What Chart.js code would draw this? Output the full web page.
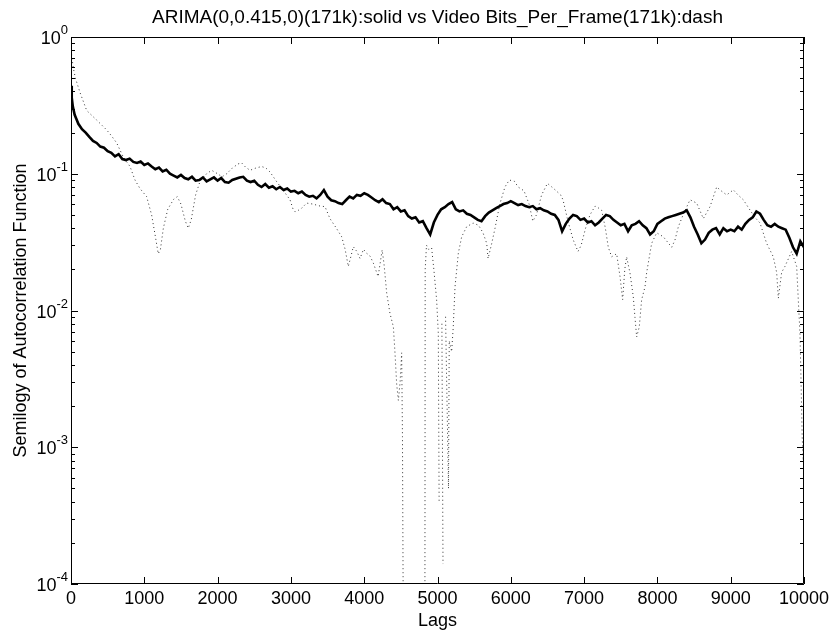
<!DOCTYPE html>
<html>
<head>
<meta charset="utf-8">
<script src="https://cdn.jsdelivr.net/npm/chart.js@4.4.1/dist/chart.umd.min.js"></script>
<style>
  body { margin: 0; background: #fff; }
  #cadre { width: 835px; height: 631px; position: relative; }
</style>
</head>
<body>
<div id="cadre"><canvas id="graphique-acf"></canvas></div>
<script>
// ACF du modele ARIMA (trait plein)
const lagsArima = [1, 10, 25, 50, 75, 100, 150, 200, 250, 300, 350, 400, 450, 500, 550, 600, 650, 700, 750, 800, 850, 900, 950,
  1000, 1050, 1100, 1150, 1200, 1250, 1300, 1350, 1400, 1450, 1500, 1550, 1600, 1650, 1700, 1750, 1800, 1850, 1900, 1950,
  2000, 2050, 2100, 2150, 2200, 2250, 2300, 2350, 2400, 2450, 2500, 2550, 2600, 2650, 2700, 2750, 2800, 2850, 2900, 2950,
  3000, 3050, 3100, 3150, 3200, 3250, 3300, 3350, 3400, 3450, 3500, 3550, 3600, 3650, 3700, 3750, 3800, 3850, 3900, 3950,
  4000, 4050, 4100, 4150, 4200, 4250, 4300, 4350, 4400, 4450, 4500, 4550, 4600, 4650, 4700, 4750, 4800, 4850, 4900, 4950,
  5000, 5050, 5100, 5150, 5200, 5250, 5300, 5350, 5400, 5450, 5500, 5550, 5600, 5650, 5700, 5750, 5800, 5850, 5900, 5950,
  6000, 6050, 6100, 6150, 6200, 6250, 6300, 6350, 6400, 6450, 6500, 6550, 6600, 6650, 6700, 6750, 6800, 6850, 6900, 6950,
  7000, 7050, 7100, 7150, 7200, 7250, 7300, 7350, 7400, 7450, 7500, 7550, 7600, 7650, 7700, 7750, 7800, 7850, 7900, 7950,
  8000, 8050, 8100, 8150, 8200, 8250, 8300, 8350, 8400, 8450, 8500, 8550, 8600, 8650, 8700, 8750, 8800, 8850, 8900, 8950,
  9000, 9050, 9100, 9150, 9200, 9250, 9300, 9350, 9400, 9450, 9500, 9550, 9600, 9650, 9700, 9750, 9800, 9850, 9900, 9950, 10000]
const acfArima = [0.44, 0.36, 0.31, 0.27, 0.25, 0.232, 0.212, 0.2, 0.186, 0.174, 0.168, 0.158, 0.155, 0.146, 0.142, 0.134, 0.139, 0.128, 0.126, 0.129, 0.122, 0.12, 0.123,
  0.116, 0.119, 0.113, 0.108, 0.111, 0.104, 0.107, 0.1, 0.097, 0.094, 0.098, 0.093, 0.091, 0.095, 0.089, 0.09, 0.094, 0.088, 0.091, 0.094,
  0.089, 0.093, 0.087, 0.086, 0.09, 0.092, 0.094, 0.095, 0.089, 0.087, 0.089, 0.083, 0.08, 0.084, 0.079, 0.081, 0.077, 0.08, 0.076, 0.078,
  0.074, 0.075, 0.072, 0.074, 0.07, 0.068, 0.069, 0.066, 0.07, 0.076, 0.068, 0.064, 0.063, 0.061, 0.06, 0.064, 0.068, 0.066, 0.07, 0.069,
  0.072, 0.07, 0.067, 0.064, 0.062, 0.065, 0.061, 0.06, 0.055, 0.057, 0.053, 0.054, 0.049, 0.047, 0.048, 0.044, 0.045, 0.04, 0.036, 0.044,
  0.05, 0.055, 0.057, 0.06, 0.062, 0.055, 0.053, 0.054, 0.051, 0.05, 0.048, 0.046, 0.045, 0.049, 0.052, 0.054, 0.056, 0.058, 0.06, 0.061,
  0.063, 0.061, 0.059, 0.06, 0.058, 0.057, 0.058, 0.055, 0.056, 0.054, 0.053, 0.051, 0.05, 0.046, 0.038, 0.043, 0.047, 0.05, 0.049, 0.046,
  0.047, 0.044, 0.045, 0.042, 0.044, 0.047, 0.05, 0.049, 0.046, 0.044, 0.042, 0.043, 0.038, 0.042, 0.043, 0.045, 0.042, 0.04, 0.036, 0.038,
  0.043, 0.045, 0.047, 0.048, 0.049, 0.05, 0.051, 0.052, 0.054, 0.048, 0.041, 0.036, 0.031, 0.033, 0.037, 0.039, 0.04, 0.036, 0.04, 0.038,
  0.039, 0.038, 0.041, 0.039, 0.043, 0.046, 0.048, 0.053, 0.051, 0.046, 0.042, 0.041, 0.043, 0.041, 0.04, 0.039, 0.034, 0.029, 0.026, 0.032, 0.029]

// ACF de la trace video (pointille) - null = valeur negative, non tracee en semilog
const lagsVideo = [1, 30, 60, 125, 214, 350, 487, 550, 623, 712, 805, 873, 941, 1032, 1100, 1150, 1190, 1220, 1260, 1320, 1400, 1450,
  1500, 1560, 1600, 1640, 1700, 1760, 1850, 1919, 2000, 2060, 2124, 2200, 2280, 2328, 2380, 2442, 2520, 2601, 2660, 2715, 2760,
  2806, 2900, 2988, 3030, 3056, 3100, 3147, 3215, 3300, 3400, 3465, 3533, 3620, 3693, 3740, 3783, 3820, 3851, 3900, 3943, 3990,
  4034, 4080, 4125, 4190, 4245, 4270, 4307, 4352, 4398, 4420, 4443, 4466, 4490, 4511, 4522, 4530, 4536, 4540, 4825, 4828, 4832,
  4850, 4880, 4920, 4950, 4988, 5011, 5022, 5030, 5055, 5060, 5075, 5085, 5105, 5110, 5150, 5160, 5193, 5215, 5239, 5284, 5330,
  5398, 5485, 5560, 5621, 5671, 5690, 5740, 5785, 5850, 5920, 5980, 6050, 6100, 6180, 6250, 6300, 6350, 6420, 6500, 6560, 6620,
  6680, 6712, 6780, 6850, 6917, 6960, 7020, 7080, 7150, 7200, 7240, 7290, 7330, 7376, 7444, 7490, 7526, 7555, 7580, 7626, 7671,
  7694, 7717, 7753, 7785, 7831, 7854, 7890, 7922, 7990, 8081, 8195, 8240, 8286, 8350, 8445, 8536, 8627, 8718, 8809, 8870, 8945,
  9036, 9100, 9172, 9263, 9330, 9400, 9490, 9581, 9627, 9650, 9695, 9740, 9831, 9900, 9922, 9945, 9960, 9975, 9990, 10000]
const acfVideo = [0.8, 0.6, 0.5, 0.39, 0.29, 0.247, 0.209, 0.19, 0.168, 0.133, 0.113, 0.09, 0.078, 0.068, 0.05, 0.035, 0.026, 0.028, 0.04, 0.055, 0.065, 0.068,
  0.06, 0.045, 0.04, 0.046, 0.07, 0.088, 0.1, 0.106, 0.1, 0.095, 0.1, 0.11, 0.118, 0.12, 0.112, 0.106, 0.11, 0.113, 0.11, 0.103, 0.095,
  0.0875, 0.075, 0.0645, 0.055, 0.0527, 0.054, 0.056, 0.061, 0.06, 0.058, 0.0575, 0.047, 0.04, 0.0346, 0.028, 0.021, 0.025, 0.0293, 0.027, 0.024, 0.028,
  0.0262, 0.025, 0.0222, 0.0177, 0.0277, 0.022, 0.0134, 0.0095, 0.0076, 0.0049, 0.0029, 0.0022, 0.003, 0.0049, 0.0012, 0.00012, 0.00005, null, null, 0.00005, 0.02,
  0.03, 0.028, 0.0287, 0.02, 0.012, 0.0068, 0.0004, null, null, 0.008, 0.00014, null, null, 0.009, 0.0005, 0.006, 0.005, 0.0076, 0.0149, 0.0262, 0.0346,
  0.041, 0.0436, 0.042, 0.037, 0.031, 0.024, 0.031, 0.04, 0.06, 0.08, 0.09, 0.088, 0.08, 0.075, 0.06, 0.045, 0.05, 0.07, 0.085, 0.08, 0.075,
  0.07, 0.0645, 0.045, 0.033, 0.027, 0.03, 0.04, 0.05, 0.058, 0.056, 0.054, 0.04, 0.029, 0.0247, 0.026, 0.0177, 0.012, 0.02, 0.0247, 0.0188, 0.0126,
  0.0089, 0.0064, 0.0076, 0.012, 0.0149, 0.019, 0.0247, 0.031, 0.037, 0.0346, 0.029, 0.0328, 0.041, 0.05, 0.0645, 0.061, 0.047, 0.0575, 0.08, 0.075, 0.07,
  0.0762, 0.07, 0.0645, 0.0543, 0.048, 0.0436, 0.031, 0.0247, 0.019, 0.0123, 0.019, 0.021, 0.027, 0.021, 0.012, 0.0068, 0.003, 0.0012, 0.0008, 0.002]

const xTicks = [0, 1000, 2000, 3000, 4000, 5000, 6000, 7000, 8000, 9000, 10000]
const yExposants = [0, -1, -2, -3, -4]
const titre = "ARIMA(0,0.415,0)(171k):solid vs Video Bits_Per_Frame(171k):dash"
const titreX = "Lags"
const titreY = "Semilogy of Autocorrelation Function"

const police = "'Liberation Sans', Arial, Helvetica, sans-serif"

// Axes facon MATLAB : cadre, graduations internes, etiquettes 10^n
const axesMatlab = {
    id: "axesMatlab",
    beforeDraw(chart) {
        const ctx = chart.ctx
        ctx.save()
        ctx.fillStyle = "#fff"
        ctx.fillRect(0, 0, chart.width, chart.height)
        ctx.restore()
    },
    afterDraw(chart) {
        const ctx = chart.ctx
        const { left, right, top, bottom } = chart.chartArea
        const sx = chart.scales.x
        const sy = chart.scales.y
        ctx.save()
        ctx.strokeStyle = "#000"
        ctx.lineWidth = 1
        ctx.beginPath()
        ctx.rect(left + 0.5, top + 0.5, right - left - 1, bottom - top - 1)
        ctx.stroke()

        ctx.beginPath()
        for (const t of xTicks) {
            const px = Math.round(sx.getPixelForValue(t)) + 0.5
            ctx.moveTo(px, bottom); ctx.lineTo(px, bottom - 7)
            ctx.moveTo(px, top); ctx.lineTo(px, top + 7)
        }
        for (const e of yExposants) {
            const py = Math.round(sy.getPixelForValue(Math.pow(10, e))) + 0.5
            ctx.moveTo(left, py); ctx.lineTo(left + 7, py)
            ctx.moveTo(right, py); ctx.lineTo(right - 7, py)
            if (e < 0) {
                for (let m = 2; m <= 9; m++) {
                    const pm = Math.round(sy.getPixelForValue(m * Math.pow(10, e))) + 0.5
                    ctx.moveTo(left, pm); ctx.lineTo(left + 4, pm)
                    ctx.moveTo(right, pm); ctx.lineTo(right - 4, pm)
                }
            }
        }
        ctx.stroke()

        ctx.fillStyle = "#000"
        ctx.font = "18px " + police
        ctx.textAlign = "center"
        ctx.textBaseline = "top"
        for (const t of xTicks) {
            ctx.fillText(String(t), sx.getPixelForValue(t), bottom + 6)
        }
        for (const e of yExposants) {
            const py = sy.getPixelForValue(Math.pow(10, e))
            const exp = String(e)
            ctx.font = "13px " + police
            const wExp = ctx.measureText(exp).width
            ctx.textAlign = "right"
            ctx.textBaseline = "alphabetic"
            ctx.fillText(exp, left - 3, py - 3)
            ctx.font = "18px " + police
            ctx.fillText("10", left - 3 - wExp, py + 7)
        }

        ctx.textAlign = "center"
        ctx.textBaseline = "alphabetic"
        ctx.font = "19px " + police
        ctx.fillText(titre, (left + right) / 2, top - 14)
        ctx.font = "18px " + police
        ctx.fillText(titreX, (left + right) / 2, bottom + 42)
        ctx.translate(26, (top + bottom) / 2)
        ctx.rotate(-Math.PI / 2)
        ctx.fillText(titreY, 0, 0)
        ctx.restore()
    }
}

const config = {
    type: "line",
    data: {
        datasets: [{
            label: "ARIMA(0,0.415,0)",
            data: lagsArima.map((l, i) => ({ x: l, y: acfArima[i] })),
            borderColor: "#000",
            borderWidth: 2.6,
            pointRadius: 0,
            tension: 0,
        }, {
            label: "Video Bits_Per_Frame",
            data: lagsVideo.map((l, i) => ({ x: l, y: acfVideo[i] })),
            borderColor: "#333",
            borderWidth: 1,
            borderDash: [1, 3],
            pointRadius: 0,
            tension: 0,
            spanGaps: false,
        }],
    },
    options: {
        responsive: true,
        maintainAspectRatio: false,
        animation: false,
        layout: { padding: { left: 71, right: 31, top: 37, bottom: 47 } },
        plugins: { legend: { display: false }, tooltip: { enabled: false } },
        scales: {
            x: { type: "linear", min: 0, max: 10000, display: false },
            y: { type: "logarithmic", min: 1e-4, max: 1, display: false },
        },
    },
    plugins: [axesMatlab],
}

const graphiqueAcf = new Chart(document.querySelector("#graphique-acf"), config)
</script>
</body>
</html>
